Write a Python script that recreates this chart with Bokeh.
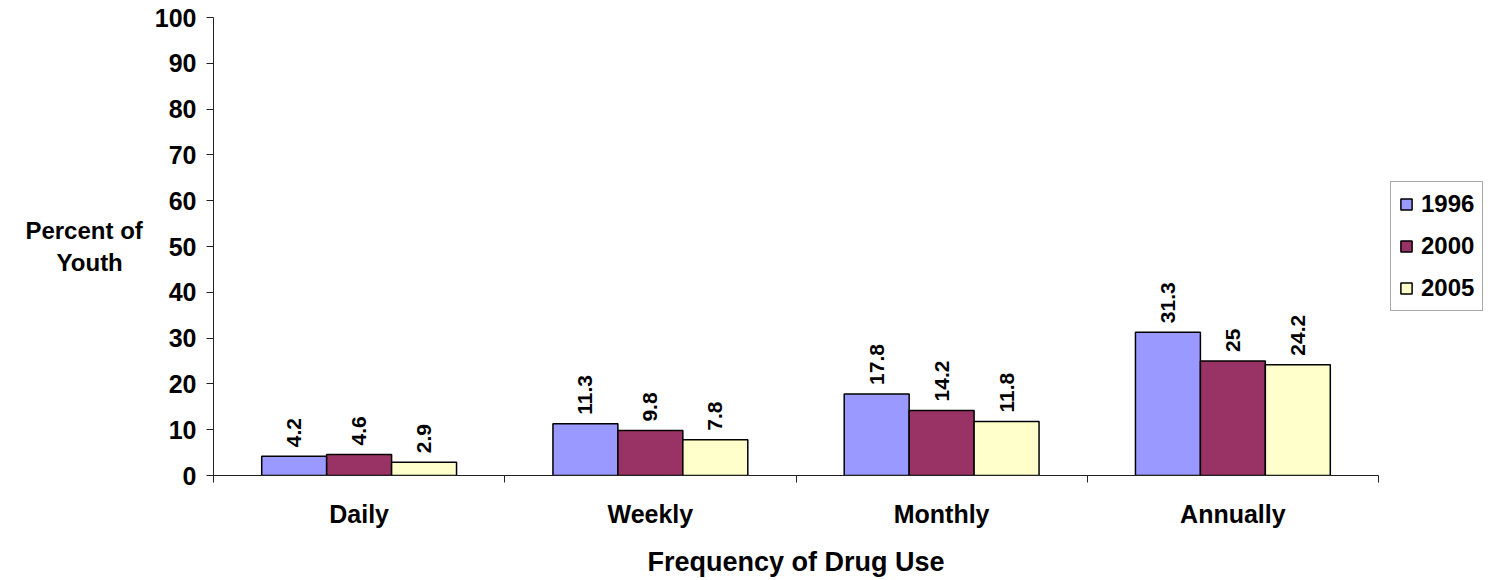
from bokeh.plotting import figure
from bokeh.models import (ColumnDataSource, FixedTicker, LinearAxis, Legend, LegendItem, Range1d)
from bokeh.core.properties import value
from bokeh.embed import file_html
from bokeh.resources import INLINE

categories = ["Daily", "Weekly", "Monthly", "Annually"]
years = ["1996", "2000", "2005"]
v1996 = [4.2, 11.3, 17.8, 31.3]
v2000 = [4.6, 9.8, 14.2, 25]
v2005 = [2.9, 7.8, 11.8, 24.2]
series = [v1996, v2000, v2005]
colors = ["#9999FF", "#993366", "#FFFFCC"]
y_ticks = list(range(0, 101, 10))

FONT = "Liberation Sans"

p = figure(width=1477, height=564, output_backend="svg", toolbar_location=None,
           x_range=Range1d(0, len(categories)), y_range=Range1d(0, 100),
           frame_width=1165, frame_height=458,
           min_border_left=213, min_border_top=17, min_border_bottom=89, min_border_right=5,
           x_axis_type=None)
p.outline_line_color = None
p.grid.grid_line_color = None
p.background_fill_color = "white"

bar_w = 0.223
offsets = [0.5 - bar_w, 0.5, 0.5 + bar_w]
renderers = []
for k, (vals, col) in enumerate(zip(series, colors)):
    xs = [i + offsets[k] for i in range(len(categories))]
    src = ColumnDataSource(dict(x=xs, top=vals, lab=[("%g" % v) for v in vals]))
    r = p.vbar(x="x", top="top", width=bar_w, bottom=0, source=src,
               fill_color=col, line_color="black", line_width=1.5)
    renderers.append(r)
    p.text(x="x", y="top", text="lab", source=src, angle=1.5708,
           text_align="left", text_baseline="middle", y_offset=-9,
           text_font=value(FONT), text_font_style="bold", text_font_size="21px",
           text_color="black")

# Y axis
ya = p.yaxis[0]
ya.ticker = FixedTicker(ticks=y_ticks, minor_ticks=[])
ya.major_label_text_font = FONT
ya.major_label_text_font_style = "bold"
ya.major_label_text_font_size = "25px"
ya.major_label_text_color = "black"
ya.axis_line_color = "#222222"
ya.major_tick_line_color = "#222222"
ya.major_tick_out = 7
ya.major_tick_in = 0
ya.major_label_standoff = 10
ya.axis_label = "Percent of\nYouth\u00a0\u00a0\u00a0"
ya.axis_label_orientation = "horizontal"
ya.axis_label_text_font = FONT
ya.axis_label_text_font_style = "bold"
ya.axis_label_text_font_size = "24px"
ya.axis_label_text_color = "black"
ya.axis_label_text_align = "center"
ya.axis_label_standoff = 9

# Bottom axis with boundary ticks
xa1 = LinearAxis(ticker=FixedTicker(ticks=[0, 1, 2, 3, 4], minor_ticks=[]),
                 major_label_overrides={i: "" for i in range(5)},
                 major_label_text_font_size="1px",
                 axis_line_color="#222222", major_tick_line_color="#222222",
                 major_tick_out=7, major_tick_in=0, major_label_standoff=0)
p.add_layout(xa1, "below")

# Category labels axis
xa2 = LinearAxis(ticker=FixedTicker(ticks=[i + 0.5 for i in range(len(categories))], minor_ticks=[]),
                 major_label_overrides={i + 0.5: c for i, c in enumerate(categories)},
                 axis_line_color=None, major_tick_line_color=None,
                 major_label_text_font=FONT, major_label_text_font_style="bold",
                 major_label_text_font_size="25px", major_label_text_color="black",
                 major_label_standoff=11,
                 axis_label="Frequency of Drug Use", axis_label_text_font=FONT,
                 axis_label_text_font_style="bold", axis_label_text_font_size="27px",
                 axis_label_text_color="black",
                 axis_label_standoff=16)
p.add_layout(xa2, "below")

legend = Legend(items=[LegendItem(label=y, renderers=[r]) for y, r in zip(years, renderers)],
                location="center_left",
                label_text_font=FONT, label_text_font_style="bold", label_text_font_size="24px",
                label_text_color="black",
                glyph_width=14, glyph_height=14, spacing=14, padding=8, margin=12,
                border_line_color="#555555", border_line_width=1,
                label_standoff=8)
p.add_layout(legend, "right")

open("out.html", "w").write(file_html(p, INLINE))
